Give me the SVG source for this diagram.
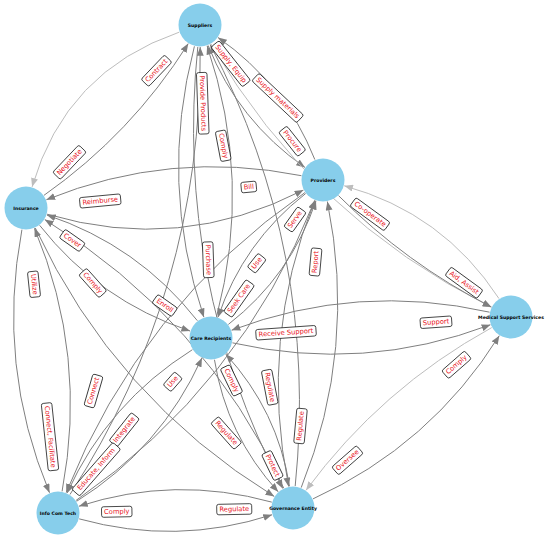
<svg xmlns="http://www.w3.org/2000/svg" width="550" height="539" viewBox="0 0 550 539">
<style>
.e{fill:none;stroke:#7f7f7f;stroke-width:1;marker-end:url(#ah)}
.e.l{stroke:#bdbdbd;marker-end:url(#ahl)}
.n circle{fill:#87ceeb}
.n text{font-family:"DejaVu Sans",sans-serif;font-weight:bold;font-size:4.6px;fill:#000;text-anchor:middle;dominant-baseline:central}
.lb rect{fill:#fff;stroke:#000;stroke-width:0.7}
.lb text{font-family:"DejaVu Sans",sans-serif;font-size:6.7px;fill:#e8111a;text-anchor:middle;dominant-baseline:central}
</style>
<defs>
<marker id="ah" viewBox="0 0 10 8" refX="10" refY="4" markerWidth="9" markerHeight="7" markerUnits="userSpaceOnUse" orient="auto"><path d="M0,0L10,4L0,8z" fill="#7f7f7f"/></marker>
<marker id="ahl" viewBox="0 0 10 8" refX="10" refY="4" markerWidth="9" markerHeight="7" markerUnits="userSpaceOnUse" orient="auto"><path d="M0,0L10,4L0,8z" fill="#bdbdbd"/></marker>
</defs>
<rect width="550" height="539" fill="#fff"/>
<g id="edges">
<path class="e" d="M43.98,195.33Q131.3,133.9 188.26,43.61"/>
<path class="e l" d="M179.19,32.16Q65.4,71.3 32.09,186.86"/>
<path class="e" d="M194.4,46.3Q158.5,183.1 203.9,317.2"/>
<path class="e" d="M216.6,316.7Q252.5,179.9 207.1,45.8"/>
<path class="e" d="M197.8,46.9Q174,280.4 282.8,488.5"/>
<path class="e" d="M295.2,486.1Q319,252.6 210.2,44.5"/>
<path class="e" d="M208.15,45.43Q238.2,121 304.95,167.43"/>
<path class="e" d="M314.85,159.57Q284.8,84 218.05,37.57"/>
<path class="e l" d="M211,44Q311.7,217.7 491.3,307.2"/>
<path class="e" d="M301.43,175.69Q170.3,149.5 46.39,199.73"/>
<path class="e" d="M47.11,214.21Q180.1,253.4 303.43,190.05"/>
<path class="e" d="M39.61,225.29Q99,300.7 190.13,331.05"/>
<path class="e" d="M197.39,320.71Q138,245.3 46.87,214.95"/>
<path class="e" d="M35.29,227.94Q114.5,398 274.27,496.46"/>
<path class="e" d="M283.71,488.06Q204.5,318 44.73,219.54"/>
<path class="e" d="M21.91,229.61Q-3.7,365.3 49.51,492.71"/>
<path class="e" d="M62.09,491.39Q87.7,355.7 34.49,228.29"/>
<path class="e" d="M76.06,500.45Q240.4,386.2 314.82,200.43"/>
<path class="e" d="M304.94,192.55Q140.6,306.8 66.18,492.57"/>
<path class="e" d="M228.34,324.46Q290.7,275.8 315.98,200.84"/>
<path class="e" d="M305.66,193.54Q243.3,242.2 218.02,317.16"/>
<path class="e" d="M314.79,200.4Q258.8,339.5 288.63,486.44"/>
<path class="e" d="M301.21,487.6Q357.2,348.5 327.37,201.56"/>
<path class="e" d="M338.5,195.6Q406,263.5 491.4,307.02"/>
<path class="e l" d="M498.98,298.57Q443,212.8 344.22,185.81"/>
<path class="e" d="M232.46,342.83Q364.1,372.5 490.42,324.77"/>
<path class="e" d="M489.54,312.17Q357.9,282.5 231.58,330.23"/>
<path class="e l" d="M491.72,327.6Q381,388.5 306.04,490.28"/>
<path class="e" d="M313.01,498.86Q430.7,445.2 499.31,335.64"/>
<path class="e" d="M79.2,518.87Q176.25,545.8 272.06,514.77"/>
<path class="e" d="M271.8,502.13Q174.75,475.2 78.94,506.23"/>
<path class="e" d="M76.62,501.3Q160.8,448.5 201.9,358.02"/>
<path class="e" d="M192.38,349.7Q108.2,402.5 67.1,492.98"/>
<path class="e" d="M214.46,359.73Q226.5,435.3 278.16,491.77"/>
<path class="e" d="M289.54,486.27Q277.5,410.7 225.84,354.23"/>
<path class="e" d="M69.96,494.54Q202.2,290.3 200.18,47"/>
</g>
<g id="n-suppliers" class="n"><circle cx="200" cy="25" r="21.5"/><text x="200" y="25">Suppliers</text></g>
<g id="n-providers" class="n"><circle cx="323" cy="180" r="21.5"/><text x="323" y="180">Providers</text></g>
<g id="n-insurance" class="n"><circle cx="26" cy="208" r="21.5"/><text x="26" y="208">Insurance</text></g>
<g id="n-care" class="n"><circle cx="211" cy="338" r="21.5"/><text x="211" y="338">Care Recipients</text></g>
<g id="n-mss" class="n"><circle cx="511" cy="317" r="21.5"/><text x="511" y="317">Medical Support Services</text></g>
<g id="n-ict" class="n"><circle cx="58" cy="513" r="21.5"/><text x="58" y="513">Info Com Tech</text></g>
<g id="n-gov" class="n"><circle cx="293" cy="508" r="21.5"/><text x="293" y="508">Governance Entity</text></g>
<g id="labels" class="lb">
<g transform="translate(69.5,162.25) rotate(-46.4)"><rect x="-18.9" y="-5.25" width="37.8" height="10.5" rx="2"/><text>Negotiate</text></g>
<g transform="translate(156.5,70.75) rotate(-46.4)"><rect x="-16.9" y="-5.25" width="33.8" height="10.5" rx="2"/><text>Contract</text></g>
<g transform="translate(202.75,103.25) rotate(88)"><rect x="-30.75" y="-5.25" width="61.5" height="10.5" rx="2"/><text>Provide Products</text></g>
<g transform="translate(208.25,259.75) rotate(88)"><rect x="-17.85" y="-5.25" width="35.7" height="10.5" rx="2"/><text>Purchase</text></g>
<g transform="translate(223.25,145.75) rotate(79.1)"><rect x="-15.2" y="-5.25" width="30.4" height="10.5" rx="2"/><text>Comply</text></g>
<g transform="translate(269.75,387.25) rotate(79.1)"><rect x="-17.5" y="-5.25" width="35" height="10.5" rx="2"/><text>Regulate</text></g>
<g transform="translate(230.75,63.75) rotate(51.6)"><rect x="-25.4" y="-5.25" width="50.8" height="10.5" rx="2"/><text>Supply, Equip</text></g>
<g transform="translate(292.25,141.25) rotate(51.6)"><rect x="-15.35" y="-5.25" width="30.7" height="10.5" rx="2"/><text>Procure</text></g>
<g transform="translate(277.75,98) rotate(43.2)"><rect x="-30.7" y="-5.25" width="61.4" height="10.5" rx="2"/><text>Supply materials</text></g>
<g transform="translate(248.75,187) rotate(-5.4)"><rect x="-7.6" y="-5.25" width="15.2" height="10.5" rx="2"/><text>Bill</text></g>
<g transform="translate(100.25,201) rotate(-5.4)"><rect x="-20.5" y="-5.25" width="41" height="10.5" rx="2"/><text>Reimburse</text></g>
<g transform="translate(72.25,240.5) rotate(35.1)"><rect x="-12.3" y="-5.25" width="24.6" height="10.5" rx="2"/><text>Cover</text></g>
<g transform="translate(164.75,305.5) rotate(35.1)"><rect x="-12.05" y="-5.25" width="24.1" height="10.5" rx="2"/><text>Enroll</text></g>
<g transform="translate(92.75,283) rotate(48.3)"><rect x="-15.2" y="-5.25" width="30.4" height="10.5" rx="2"/><text>Comply</text></g>
<g transform="translate(226.25,433) rotate(48.3)"><rect x="-17.5" y="-5.25" width="35" height="10.5" rx="2"/><text>Regulate</text></g>
<g transform="translate(34,284.25) rotate(84)"><rect x="-12.9" y="-5.25" width="25.8" height="10.5" rx="2"/><text>Utilize</text></g>
<g transform="translate(50,436.75) rotate(84)"><rect x="-33.85" y="-5.25" width="67.7" height="10.5" rx="2"/><text>Connect, Facilitate</text></g>
<g transform="translate(124.25,429.75) rotate(-51.5)"><rect x="-17.9" y="-5.25" width="35.8" height="10.5" rx="2"/><text>Integrate</text></g>
<g transform="translate(256.75,263.25) rotate(-51.5)"><rect x="-8.75" y="-5.25" width="17.5" height="10.5" rx="2"/><text>Use</text></g>
<g transform="translate(239,298.5) rotate(-54.7)"><rect x="-19.6" y="-5.25" width="39.2" height="10.5" rx="2"/><text>Seek Care</text></g>
<g transform="translate(295,219.5) rotate(-54.7)"><rect x="-12.1" y="-5.25" width="24.2" height="10.5" rx="2"/><text>Serve</text></g>
<g transform="translate(315.5,262) rotate(-84.8)"><rect x="-13.75" y="-5.25" width="27.5" height="10.5" rx="2"/><text>Report</text></g>
<g transform="translate(300.5,426) rotate(-84.8)"><rect x="-17.5" y="-5.25" width="35" height="10.5" rx="2"/><text>Regulate</text></g>
<g transform="translate(370,214.25) rotate(36.1)"><rect x="-21.15" y="-5.25" width="42.3" height="10.5" rx="2"/><text>Co-operate</text></g>
<g transform="translate(464,282.75) rotate(36.1)"><rect x="-19.75" y="-5.25" width="39.5" height="10.5" rx="2"/><text>Aid, Assist</text></g>
<g transform="translate(286,332.75) rotate(-4)"><rect x="-30.1" y="-5.25" width="60.2" height="10.5" rx="2"/><text>Receive Support</text></g>
<g transform="translate(436,322.25) rotate(-4)"><rect x="-15.75" y="-5.25" width="31.5" height="10.5" rx="2"/><text>Support</text></g>
<g transform="translate(456.5,364.75) rotate(-41.2)"><rect x="-15.2" y="-5.25" width="30.4" height="10.5" rx="2"/><text>Comply</text></g>
<g transform="translate(347.5,460.25) rotate(-41.2)"><rect x="-16.4" y="-5.25" width="32.8" height="10.5" rx="2"/><text>Oversee</text></g>
<g transform="translate(116.75,511.75) rotate(-1.2)"><rect x="-15.2" y="-5.25" width="30.4" height="10.5" rx="2"/><text>Comply</text></g>
<g transform="translate(234.25,509.25) rotate(-1.2)"><rect x="-17.5" y="-5.25" width="35" height="10.5" rx="2"/><text>Regulate</text></g>
<g transform="translate(96.25,469.25) rotate(-48.8)"><rect x="-31.2" y="-5.25" width="62.4" height="10.5" rx="2"/><text>Educate, Inform</text></g>
<g transform="translate(172.75,381.75) rotate(-48.8)"><rect x="-8.75" y="-5.25" width="17.5" height="10.5" rx="2"/><text>Use</text></g>
<g transform="translate(231.5,380.5) rotate(64.2)"><rect x="-15.2" y="-5.25" width="30.4" height="10.5" rx="2"/><text>Comply</text></g>
<g transform="translate(272.5,465.5) rotate(64.2)"><rect x="-14.5" y="-5.25" width="29" height="10.5" rx="2"/><text>Protect</text></g>
<g transform="translate(93.5,391) rotate(-73.8)"><rect x="-16.35" y="-5.25" width="32.7" height="10.5" rx="2"/><text>Connect</text></g>
</g>
</svg>
